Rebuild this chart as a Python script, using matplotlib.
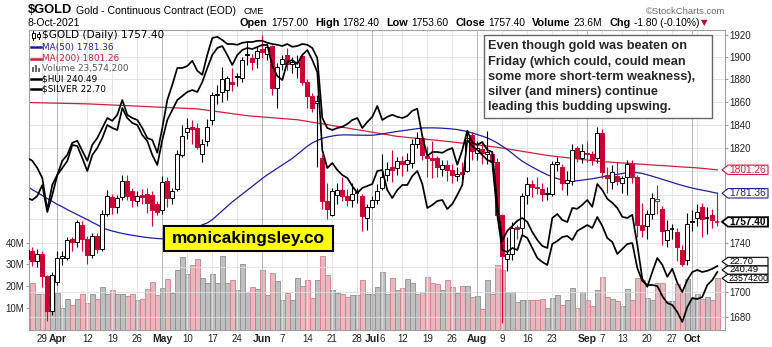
import matplotlib
matplotlib.use("Agg")
import matplotlib.pyplot as plt
import pandas as pd
from matplotlib.patches import Rectangle, Polygon
from matplotlib.lines import Line2D
from matplotlib.transforms import IdentityTransform
from matplotlib.ticker import FixedLocator, FixedFormatter, NullLocator

plt.rcParams['font.family'] = ['Liberation Sans', 'DejaVu Sans']

# ---------------- data (one row per week) ----------------
holidays = ['2021-04-02', '2021-05-31', '2021-07-05', '2021-09-06']
dates = pd.bdate_range('2021-03-24', '2021-10-08', freq='C', holidays=holidays)

opens = [1727, 1733, 1725,
         1731, 1713, 1685, 1708,
         1728, 1728, 1743.5, 1741, 1755,
         1743, 1730, 1746, 1735, 1764,
         1778, 1770, 1778, 1792, 1783,
         1775, 1780, 1781, 1780, 1772,
         1767, 1792, 1777, 1785, 1814,
         1834, 1838, 1837, 1815, 1826,
         1844, 1866, 1869, 1871, 1878,
         1882, 1881, 1902, 1899, 1899,
         1907, 1903, 1910, 1872,
         1894, 1902, 1894, 1891, 1901,
         1878, 1865, 1859, 1811, 1775,
         1763, 1780, 1784, 1779, 1776,
         1781, 1779, 1761, 1770, 1776,
         1786, 1797, 1804, 1803,
         1809, 1806, 1807, 1823, 1829,
         1813, 1811, 1811, 1802, 1805,
         1801, 1796, 1799, 1800, 1831,
         1816, 1819, 1815, 1815, 1808,
         1763, 1727, 1731, 1753, 1752,
         1780, 1789, 1787, 1785, 1781,
         1781, 1806, 1804, 1790, 1792,
         1820, 1811, 1816, 1815, 1811,
         1833, 1797, 1791, 1796,
         1790, 1795, 1806, 1795, 1755,
         1754, 1764, 1774.5, 1768, 1742,
         1751, 1749, 1734, 1726, 1757,
         1761, 1770, 1761, 1763, 1757.0]
highs = [1738, 1737, 1735,
         1733, 1714, 1716, 1733,
         1733, 1745, 1745, 1759, 1758,
         1746, 1748, 1748, 1767, 1784,
         1781, 1780, 1797, 1797, 1786,
         1783, 1785, 1786, 1783, 1775,
         1796, 1795, 1786, 1818, 1840,
         1846, 1844, 1842, 1828, 1845,
         1869, 1875, 1891, 1883, 1890,
         1886, 1900, 1915, 1903, 1910,
         1920, 1912, 1911, 1895,
         1902, 1908, 1900, 1902, 1904,
         1880, 1868, 1866, 1815, 1790,
         1786, 1790, 1795, 1785, 1790,
         1786, 1781, 1772, 1779, 1789,
         1815, 1808, 1818, 1812,
         1813, 1816, 1828, 1834, 1832,
         1822, 1826, 1813, 1810, 1810,
         1806, 1804, 1808, 1833, 1834,
         1826, 1824, 1835, 1817, 1811,
         1764, 1745, 1757, 1755, 1782,
         1795, 1793, 1795, 1790, 1787,
         1809, 1812, 1806, 1800, 1823,
         1822, 1823, 1826, 1817, 1838,
         1836, 1804, 1805, 1808,
         1796, 1810, 1810, 1797, 1773,
         1767, 1782, 1788, 1771, 1759,
         1756, 1752, 1738, 1765, 1767,
         1772, 1773, 1770, 1768, 1782.4]
lows = [1723, 1721, 1720,
        1704, 1677, 1682, 1706,
        1722, 1726, 1733, 1737, 1733,
        1723, 1728, 1732, 1733, 1762,
        1764, 1765, 1776, 1776, 1770,
        1771, 1772, 1765, 1754, 1763,
        1764, 1770, 1772, 1783, 1812,
        1828, 1823, 1819, 1808, 1822,
        1840, 1858, 1860, 1862, 1870,
        1874, 1878, 1893, 1888, 1890,
        1899, 1897, 1866, 1855,
        1888, 1888, 1886, 1881, 1875,
        1855, 1851, 1804, 1768, 1760,
        1762, 1772, 1775, 1771, 1770,
        1773, 1750, 1751, 1769, 1772,
        1784, 1792, 1791, 1797,
        1796, 1800, 1803, 1820, 1810,
        1795, 1794, 1795, 1796, 1792,
        1790, 1792, 1793, 1799, 1810,
        1810, 1806, 1806, 1800, 1760,
        1675, 1717, 1726, 1743, 1747,
        1772, 1778, 1781, 1775, 1776,
        1779, 1800, 1784, 1780, 1788,
        1808, 1807, 1808, 1805, 1807,
        1794, 1782, 1785, 1788,
        1782, 1780, 1790, 1745, 1745,
        1743, 1760, 1764, 1738, 1737,
        1743, 1725, 1721, 1722, 1750,
        1754, 1745, 1747, 1752, 1753.6]
closes = [1734, 1725, 1731,
          1713, 1685, 1714, 1728,
          1729, 1742, 1740.5, 1757, 1743,
          1730, 1746, 1735, 1764, 1779,
          1770, 1777, 1792, 1779, 1776,
          1779, 1778, 1773, 1767, 1766,
          1791, 1777, 1783, 1815, 1830,
          1837, 1836, 1821, 1823, 1838,
          1866, 1867, 1880, 1881, 1876,
          1883, 1897, 1903, 1896, 1905.5,
          1904.5, 1909, 1872, 1891,
          1898, 1894, 1895.5, 1896, 1878,
          1865, 1855, 1861, 1775, 1768,
          1783, 1784, 1779, 1776, 1781,
          1781.5, 1762, 1770, 1776, 1783,
          1795, 1802, 1801, 1809,
          1806, 1809.5, 1823, 1829, 1814,
          1811, 1810, 1804, 1805, 1801,
          1797, 1798, 1797.5, 1829, 1817,
          1820, 1816, 1816.5, 1808, 1763,
          1729, 1731, 1752, 1751.5, 1779,
          1789, 1787, 1786, 1781, 1782,
          1806, 1808, 1790, 1793, 1818,
          1811, 1817, 1815, 1810, 1833,
          1799, 1794, 1799, 1792,
          1794, 1806, 1795, 1755, 1751,
          1764, 1777, 1776.5, 1750, 1750.5,
          1751.5, 1737, 1723, 1756, 1758,
          1766, 1760, 1761, 1759.2, 1757.4]
volume_m = [18, 21.5, 16.4,
            16.4, 24, 16.4, 17,
            10, 14.1, 11.5, 14, 16.5,
            12, 16.5, 14, 19.5, 16.5,
            18, 16.3, 16.5, 15.5, 16.5,
            13.5, 14, 18.5, 21.8, 16,
            19.2, 23.3, 17, 27.2, 33.6,
            25.7, 29.9, 32.5, 23.8, 21.5,
            25.4, 21.5, 34, 21.5, 22.6,
            18, 30.3, 17.3, 19.5, 18.7,
            27.5, 16, 26, 22.2,
            13.7, 16.7, 13.7, 23.8, 20,
            22.9, 14.6, 22.6, 34, 24.9,
            18.3, 17, 16.3, 15, 16,
            16, 22.9, 16.5, 16.5, 19.8,
            26.7, 16.5, 23.8, 18,
            19.2, 23.3, 21.3, 16.4, 17.5,
            24.4, 21.3, 21, 18.3, 22.9,
            19.5, 17, 20.2, 20.2, 14.9,
            15.4, 9.5, 22.9, 16.2, 29.9,
            27.5, 17.5, 17.5, 12.9, 13.7,
            13.4, 13.7, 13.4, 14.1, 10,
            14.6, 15.7, 11.1, 13.4, 19.2,
            10, 17.2, 13.4, 10.6, 18,
            24.4, 15.2, 14.1, 13,
            10.6, 18.7, 13.4, 23.8, 22.6,
            14.6, 13.7, 21.3, 21.3, 13,
            13, 21, 17.2, 23.3, 14.1,
            16.2, 14.1, 15.2, 13.7, 23.5742]
ma50 = [1787, 1784.5, 1782,
        1779.5, 1777, 1774.5, 1772,
        1770, 1767.6, 1765.5, 1763.5, 1761.4,
        1759.3, 1757, 1755, 1752.5, 1751,
        1749.8, 1748.8, 1747.8, 1747, 1746.3,
        1745.6, 1745, 1744.4, 1744, 1743.6,
        1743.4, 1743.5, 1744, 1745, 1746.5,
        1748.5, 1750.5, 1752.8, 1755, 1756.5,
        1759.3, 1763, 1766.7, 1770.4, 1774.1,
        1777.4, 1780.7, 1784, 1787.3, 1790.6,
        1793.9, 1797, 1799.8, 1802.6,
        1805.4, 1808.2, 1811, 1814.5, 1818,
        1821.5, 1824.4, 1826.4, 1828.3, 1829.5,
        1830.3, 1831, 1831.3, 1831.3, 1831.2,
        1831.1, 1831, 1831, 1831, 1831.5,
        1832.2, 1832.9, 1833.6, 1834.3,
        1834.9, 1835.5, 1836.1, 1836.7, 1837.3,
        1837.4, 1837.4, 1837.3, 1837.1, 1836.8,
        1836.4, 1835.9, 1835.1, 1834.2, 1833,
        1831.6, 1830.2, 1828.7, 1826.6, 1824.3,
        1821.6, 1818.6, 1815.3, 1811.8, 1808.6,
        1806, 1803.6, 1801.3, 1799.1, 1797,
        1795.3, 1793.8, 1792.6, 1791.6, 1791.6,
        1792, 1792.5, 1793.1, 1793.7, 1794.4,
        1795.3, 1796, 1796.7, 1797.4,
        1798.1, 1798.8, 1799, 1798.8, 1798.2,
        1797, 1795.8, 1794.5, 1793.2, 1791.9,
        1790.5, 1789.2, 1788, 1786.8, 1785.8,
        1784.8, 1784, 1783.2, 1782.3, 1781.36]
ma200 = [1859.6, 1859.5, 1859.4,
         1859.3, 1859.2, 1859.1, 1859.0,
         1858.9, 1858.8, 1858.7, 1858.6, 1858.5,
         1858.4, 1858.2, 1858.0, 1857.8, 1857.6,
         1857.4, 1857.2, 1857.0, 1856.8, 1856.6,
         1856.4, 1856.2, 1856.0, 1855.8, 1855.6,
         1855.4, 1855.2, 1855.0, 1854.8, 1854.6,
         1854.4, 1854.2, 1854.0, 1853.4, 1852.8,
         1852.2, 1851.6, 1851.0, 1850.4, 1849.8,
         1849.2, 1848.6, 1848.0, 1847.6, 1847.3,
         1846.9, 1846.6, 1846.2, 1845.9,
         1845.5, 1845.2, 1844.8, 1844.5, 1843.8,
         1843.1, 1842.3, 1841.6, 1840.9, 1840.2,
         1839.4, 1838.7, 1838.0, 1837.3, 1836.5,
         1835.8, 1835.1, 1834.4, 1833.6, 1832.9,
         1832.2, 1831.5, 1830.7, 1830.0,
         1829.6, 1829.1, 1828.7, 1828.3, 1827.9,
         1827.4, 1827.0, 1826.6, 1826.1, 1825.7,
         1825.2, 1824.7, 1824.2, 1823.7, 1823.2,
         1822.6, 1822.1, 1821.6, 1821.1, 1820.6,
         1819.9, 1819.2, 1818.5, 1817.8, 1817.1,
         1816.4, 1815.7, 1815.0, 1814.3, 1813.6,
         1813.1, 1812.6, 1812.1, 1811.6, 1811.1,
         1810.6, 1810.1, 1809.6, 1809.1, 1808.6,
         1808.3, 1808.0, 1807.7, 1807.4,
         1807.1, 1806.9, 1806.6, 1806.3, 1806.0,
         1805.7, 1805.4, 1805.1, 1804.9, 1804.6,
         1804.3, 1804.0, 1803.7, 1803.5, 1803.2,
         1802.9, 1802.5, 1802.1, 1801.7, 1801.26]
hui = [262.69, 262.09, 263.29,
       266.59, 258.49, 263.59, 269.59,
       271.69, 273.79, 278.59, 278.29, 274.69,
       270.79, 275.59, 277.69, 280.69, 284.59,
       283.69, 283.09, 289.69, 286.69, 285.19,
       284.59, 281.59, 279.79, 275.59, 272.59,
       280.09, 286.09, 289.09, 292.09, 293.29,
       294.49, 295.09, 294.49, 297.49, 301.69,
       305.59, 307.69, 308.29, 305.59, 302.59,
       305.59, 307.09, 307.69, 307.39, 307.99,
       308.59, 308.59, 302.29, 299.29,
       298.09, 303.49, 304.09, 302.89, 305.59,
       307.09, 304.09, 300.49, 277.09, 271.69,
       273.19, 271.09, 269.59, 268.69, 266.29,
       264.19, 265.69, 266.29, 266.89, 270.79,
       271.09, 265.09, 262.69, 265.09,
       266.59, 266.59, 269.29, 270.79, 266.89,
       259.69, 260.59, 261.79, 262.09, 259.39,
       260.89, 263.59, 266.59, 280.09, 278.29,
       277.09, 275.59, 274.09, 273.49, 257.59,
       247.09, 246.49, 247.69, 247.09, 251.59,
       250.69, 247.69, 244.69, 243.49, 242.59,
       248.89, 249.79, 250.99, 251.29, 250.09,
       252.79, 253.69, 254.59, 253.69, 256.99,
       254.29, 250.69, 249.49, 245.89,
       247.39, 248.89, 249.19, 241.69, 237.79,
       236.59, 236.59, 236.29, 233.29, 231.19,
       230.59, 228.49, 225.49, 229.99, 232.69,
       232.39, 232.99, 236.59, 238.09, 240.49]
silver = [25.40, 25.33, 25.15,
          24.90, 24.10, 24.73, 24.98,
          25.33, 25.48, 25.78, 25.83, 25.58,
          25.33, 25.73, 25.90, 26.15, 26.40,
          26.33, 26.48, 26.85, 26.48, 26.40,
          26.35, 26.15, 25.90, 25.85, 25.53,
          26.15, 26.85, 27.23, 27.65, 27.65,
          27.70, 27.83, 27.58, 27.48, 27.98,
          28.40, 28.43, 28.35, 28.25, 28.25,
          28.23, 28.28, 28.30, 28.30, 28.33,
          28.33, 28.28, 28.25, 28.23,
          28.20, 28.25, 28.18, 28.20, 28.25,
          28.23, 28.15, 27.90, 26.40, 26.15,
          26.10, 26.15, 26.18, 26.25, 26.35,
          26.40, 26.15, 26.30, 26.43, 26.70,
          26.35, 26.43, 26.48, 26.43,
          26.40, 26.45, 26.58, 26.63, 25.95,
          25.45, 25.55, 25.55, 25.53, 25.60,
          25.65, 25.23, 25.60, 26.08, 25.78,
          25.73, 25.80, 25.60, 25.55, 24.23,
          23.33, 23.58, 23.70, 23.83, 23.90,
          23.80, 23.55, 23.35, 23.20, 23.15,
          23.90, 24.00, 23.85, 23.80, 24.15,
          24.13, 24.23, 24.35, 24.18, 24.75,
          24.60, 24.38, 24.28, 24.15,
          23.93, 23.90, 23.98, 23.23, 22.38,
          22.18, 22.55, 22.90, 22.73, 22.43,
          22.63, 22.28, 22.05, 22.35, 22.55,
          22.60, 22.55, 22.58, 22.63, 22.70]

price_ticks = list(range(1680, 1921, 20))
hidden_ticks = [1720, 1760, 1780, 1800]   # covered by the value tags
volume_ticks_m = [10, 20, 30, 40]
header = [("Open", "1757.00"), ("High", "1782.40"), ("Low", "1753.60"),
          ("Close", "1757.40"), ("Volume", "23.6M"), ("Chg", "-1.80 (-0.10%)")]
note_lines = ["Even though gold was beaten on",
              "Friday (which could, could mean",
              "some more short-term weakness),",
              "silver (and miners) continue",
              "leading this budding upswing."]

# ---------------- figure ----------------
W, H = 772, 347
fig = plt.figure(figsize=(W / 100, H / 100), dpi=100)
fig.patch.set_facecolor('white')


def fx(x):
    return x / W


def fy(y):
    return 1 - y / H


RED = '#cc0033'
NAVY = '#1f1f9a'
CRIM = '#cc1f3f'

rect = [fx(29), fy(329.5), fx(725) - fx(29), fy(29.5) - fy(329.5)]
ax_v = fig.add_axes(rect, label='vol', zorder=0)
ax = fig.add_axes(rect, label='price', zorder=1)
ax_h = fig.add_axes(rect, label='hui', zorder=2)
ax_s = fig.add_axes(rect, label='silver', zorder=3)

n_days = len(dates)
xs = list(range(n_days))
for a in (ax_v, ax, ax_h, ax_s):
    a.set_xlim(0.34, 139.54)

# volume
vol_col, vol_edge = [], []
for n in xs:
    down = n > 0 and closes[n] < closes[n - 1]
    vol_col.append('#e8b8be' if down else '#bfbfbf')
    vol_edge.append('#d27e8a' if down else '#8e8e8e')
ax_v.bar(xs, [v * 1e6 for v in volume_m], width=0.9, color=vol_col,
         edgecolor=vol_edge, linewidth=0.6)
ax_v.set_ylim(0, 138.25e6)
ax_v.set_yticks([v * 1e6 for v in volume_ticks_m])
ax_v.set_yticklabels([f"{v}M" for v in volume_ticks_m])
ax_v.tick_params(axis='y', left=True, length=2.2, pad=1, labelsize=7,
                 labelcolor='#222222', color='#999999')
ax_v.set_xticks([])
for s in ax_v.spines.values():
    s.set_visible(False)

# price panel
ax.patch.set_visible(False)
ax.set_yscale('log')
ax.set_ylim(1670.1, 1925.0)
ax.yaxis.set_major_locator(FixedLocator(price_ticks))
ax.yaxis.set_major_formatter(FixedFormatter(
    ['' if t in hidden_ticks else str(t) for t in price_ticks]))
ax.yaxis.set_minor_locator(NullLocator())
ax.yaxis.tick_right()
ax.tick_params(axis='y', length=2.2, pad=1, labelsize=7,
               labelcolor='#222222', color='#999999')
ax.grid(axis='y', color='#dedede', lw=0.6)
ax.set_axisbelow(True)
for s in ax.spines.values():
    s.set_color('#a0a0a0')
    s.set_linewidth(0.8)

# time axis: week and month starts
d = pd.Series(dates)
wk = d.dt.isocalendar().week.values
mo = d.dt.month.values
month_starts = [n for n in range(1, n_days) if mo[n] != mo[n - 1]]
week_starts = [n for n in range(1, n_days) if wk[n] != wk[n - 1]]
ticks, labels, bold = [], [], []
for n in range(1, n_days):
    if n in month_starts:
        ax.axvline(n, color='#b5b5b5', lw=0.7, zorder=1)
        ticks.append(n)
        labels.append(d[n].strftime('%b'))
        bold.append(True)
    elif n in week_starts:
        ax.axvline(n, color='#e0e0e0', lw=0.6, zorder=1)
        if any(0 < m - n <= 2 or 0 < n - m <= 1 for m in month_starts):
            continue
        ticks.append(n)
        labels.append(str(d[n].day))
        bold.append(False)
ax.set_xticks(ticks)
ax.set_xticklabels(labels)
ax.tick_params(axis='x', length=0, pad=3, labelsize=7, labelcolor='#222222')
for lab, b in zip(ax.get_xticklabels(), bold):
    if b:
        lab.set_fontweight('bold')
        lab.set_fontsize(7.5)

# moving averages
ax.plot(xs, ma200, color=CRIM, lw=0.9, zorder=2)
ax.plot(xs, ma50, color=NAVY, lw=0.9, zorder=2)

# candles
for n in xs:
    o, h, l, c = opens[n], highs[n], lows[n], closes[n]
    prev = closes[n - 1] if n else o
    col = RED if c < prev else 'black'
    ax.vlines(n, l, h, color=col, lw=0.8, zorder=3)
    if abs(c - o) < 0.8:
        ax.hlines(c, n - 0.42, n + 0.42, color=col, lw=1.2, zorder=4)
    else:
        ax.add_patch(Rectangle((n - 0.42, min(o, c)), 0.84, abs(c - o),
                               fc=col if c < o else 'white', ec=col,
                               lw=0.7, zorder=4))

# overlays, each on its own scale
ax_h.plot(xs, hui, color='black', lw=1.25)
ax_h.set_ylim(223.24, 313.24)
ax_h.axis('off')
ax_s.plot(xs, silver, color='black', lw=1.25)
ax_s.set_ylim(21.1125, 28.6125)
ax_s.axis('off')

# ---------------- value tags on the right ----------------
fig.canvas.draw()
renderer = fig.canvas.get_renderer()


def tag(y_disp, text, color, bold_txt=False, lw=0.8, fs=7.3, hh=4.7):
    x0, x1 = 722, 768
    pts = [(x0, y_disp), (x0 + 6, y_disp + hh), (x1, y_disp + hh),
           (x1, y_disp - hh), (x0 + 6, y_disp - hh)]
    fig.add_artist(Polygon(pts, closed=True, fc='white', ec=color, lw=lw,
                           transform=IdentityTransform(), zorder=30))
    fig.text(fx(729), y_disp / H, text, ha='left', va='center', fontsize=fs,
             color=color, fontweight='bold' if bold_txt else 'normal',
             zorder=31)


def ydisp(a, v):
    return a.transData.transform((0, v))[1]


tag(ydisp(ax, ma200[-1]), f"{ma200[-1]:.2f}", CRIM)
tag(ydisp(ax, ma50[-1]), f"{ma50[-1]:.2f}", NAVY)
tag(ydisp(ax, closes[-1]), f"{closes[-1]:.2f}", 'black', True, 1.3)

# the three lower tags are stacked so they do not hide each other's text
stack = [(ydisp(ax_v, volume_m[-1] * 1e6), f"{int(round(volume_m[-1] * 1e6))}", 6.4),
         (ydisp(ax_h, hui[-1]), f"{hui[-1]:.2f}", 6.8),
         (ydisp(ax_s, silver[-1]), f"{silver[-1]:.2f}", 6.8)]
prev_y = None
for yv, txt, fs in sorted(stack):
    if prev_y is not None:
        yv = max(yv, prev_y + 8.4)
    tag(yv, txt, 'black', fs=fs, hh=4.2)
    prev_y = yv

# ---------------- legend ----------------
leg_items = [("$GOLD (Daily) %.2f" % closes[-1], 'black', 35.5),
             ("MA(50) %.2f" % ma50[-1], NAVY, 47.3),
             ("MA(200) %.2f" % ma200[-1], CRIM, 58.7),
             ("Volume {:,}".format(int(round(volume_m[-1] * 1e6))), '#555555', 68.7),
             ("$HUI %.2f" % hui[-1], 'black', 78.7),
             ("$SILVER %.2f" % silver[-1], 'black', 88.7)]
for i, (txt, col, yy) in enumerate(leg_items):
    fs = 7.6 if i == 0 else 6.4
    fig.text(fx(42.5), fy(yy), txt, ha='left', va='center', fontsize=fs,
             color=col, family='DejaVu Sans', zorder=25)
    if i in (1, 2, 4, 5):
        fig.add_artist(Line2D([fx(31), fx(41)], [fy(yy), fy(yy)], color=col,
                              lw=1.8, zorder=25))
    elif i == 3:
        for bx, bh in ((32, 5), (35, 7), (38, 4)):
            fig.add_artist(Rectangle((fx(bx), fy(yy + 3.5)), 2.2 / W, bh / H,
                                     fc='#666666', ec='none', zorder=25))
    else:
        for cx, top, bot, b0, b1 in ((33, 31, 40, 33, 38), (38.5, 32, 39, 34, 37)):
            fig.add_artist(Line2D([fx(cx), fx(cx)], [fy(top), fy(bot)],
                                  color='black', lw=0.8, zorder=25))
            fig.add_artist(Rectangle((fx(cx - 1.5), fy(b1)), 3 / W, (b1 - b0) / H,
                                     fc='white', ec='black', lw=0.7, zorder=26))

# ---------------- header ----------------
fig.text(fx(28), fy(10), "$GOLD", fontsize=9.3, fontweight='bold',
         va='center', ha='left')
fig.text(fx(76), fy(10.5), "Gold - Continuous Contract (EOD)", fontsize=7.6,
         va='center', ha='left')
fig.text(fx(243), fy(11), "CME", fontsize=6.6, va='center', ha='left')
fig.text(fx(28), fy(23), "8-Oct-2021", fontsize=7.5, va='center', ha='left')
fig.text(fx(725), fy(11.5), "\u00a9StockCharts.com", fontsize=6.8,
         color='#6a6a6a', va='center', ha='right')

x_cur = 240.0
for lab, val in header:
    t = fig.text(fx(x_cur), fy(23.5), lab, fontsize=7.8, fontweight='bold',
                 va='center', ha='left')
    x_cur = t.get_window_extent(renderer).x1 + 3.5
    t = fig.text(fx(x_cur), fy(23.5), val, fontsize=7.4, va='center', ha='left')
    x_cur = t.get_window_extent(renderer).x1 + 6.5
fig.text(fx(x_cur - 4.5), fy(23), "\u25bc", fontsize=6, color='#b0002a',
         va='center', ha='left', family=['DejaVu Sans'])

# ---------------- annotation box ----------------
fig.add_artist(Rectangle((fx(484), fy(117.5)), (712 - 484) / W, (117.5 - 34.5) / H,
                         fc='white', ec='#666666', lw=1.0, zorder=40))
for txt, yy in zip(note_lines, (46.3, 61.5, 77, 92.2, 107.4)):
    fig.text(fx(488), fy(yy), txt, fontsize=9.2, fontweight='bold',
             color='#262626', va='center', ha='left', zorder=41)

# ---------------- watermark ----------------
fig.add_artist(Rectangle((fx(164), fy(251)), 169 / W, 25 / H, fc='#ffff00',
                         ec='black', lw=1.5, zorder=40))
fig.text(fx(248.5), fy(238.5), "monicakingsley.co", fontsize=12.4,
         fontweight='bold', color='black', va='center', ha='center', zorder=41)

fig.savefig('out.png', dpi=100)
